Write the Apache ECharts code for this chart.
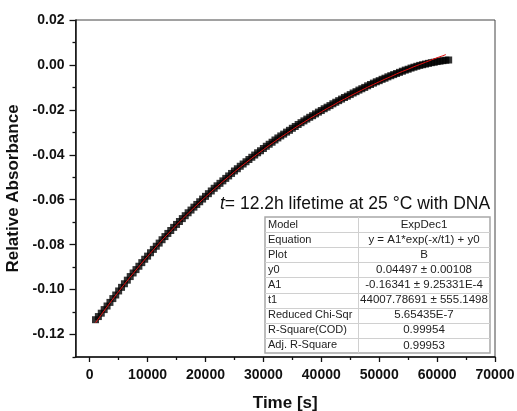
<!DOCTYPE html>
<html>
<head>
<meta charset="utf-8">
<script src="https://cdn.jsdelivr.net/npm/echarts@6/dist/echarts.min.js"></script>
<style>
  html, body { margin: 0; padding: 0; background: #fff; }
  #chart { width: 517px; height: 411px; }
</style>
</head>
<body>
<div id="chart"></div>
<script>
// Measured kinetics: time (s) and relative absorbance, one reading every 500 s
const timeStart = 1000;
const timeStep = 500;
const absorbance = [
  -0.1134, -0.1120, -0.1105, -0.1089, -0.1073, -0.1057, -0.1040, -0.1024, -0.1006, -0.0990,
  -0.0974, -0.0958, -0.0942, -0.0926, -0.0911, -0.0896, -0.0880, -0.0865, -0.0851, -0.0836,
  -0.0821, -0.0807, -0.0793, -0.0778, -0.0764, -0.0750, -0.0737, -0.0723, -0.0710, -0.0697,
  -0.0684, -0.0671, -0.0658, -0.0646, -0.0633, -0.0621, -0.0609, -0.0597, -0.0585, -0.0573,
  -0.0561, -0.0549, -0.0538, -0.0527, -0.0516, -0.0505, -0.0494, -0.0483, -0.0472, -0.0462,
  -0.0451, -0.0441, -0.0431, -0.0421, -0.0411, -0.0401, -0.0391, -0.0382, -0.0372, -0.0362,
  -0.0353, -0.0344, -0.0334, -0.0325, -0.0316, -0.0308, -0.0299, -0.0291, -0.0282, -0.0274,
  -0.0265, -0.0257, -0.0249, -0.0241, -0.0233, -0.0226, -0.0218, -0.0210, -0.0203, -0.0195,
  -0.0188, -0.0181, -0.0173, -0.0166, -0.0159, -0.0152, -0.0145, -0.0139, -0.0132, -0.0125,
  -0.0119, -0.0112, -0.0106, -0.0100, -0.0093, -0.0087, -0.0081, -0.0075, -0.0070, -0.0064,
  -0.0059, -0.0053, -0.0048, -0.0043, -0.0038, -0.0033, -0.0028, -0.0023, -0.0019, -0.0014,
  -0.0010, -0.0006, -0.0002, 0.0001, 0.0004, 0.0007, 0.0010, 0.0012, 0.0015, 0.0017,
  0.0019, 0.0021, 0.0022
];

// ExpDec1 fit curve, sampled every 1000 s
const fitStart = 1000;
const fitStep = 1000;
const fitValues = [
  -0.1148, -0.1112, -0.1077, -0.1042, -0.1009, -0.0976, -0.0944, -0.0913, -0.0882, -0.0852,
  -0.0823, -0.0794, -0.0766, -0.0739, -0.0712, -0.0686, -0.0661, -0.0636, -0.0611, -0.0588,
  -0.0564, -0.0542, -0.0519, -0.0498, -0.0476, -0.0455, -0.0435, -0.0415, -0.0396, -0.0377,
  -0.0358, -0.0340, -0.0322, -0.0305, -0.0288, -0.0271, -0.0255, -0.0239, -0.0224, -0.0209,
  -0.0194, -0.0180, -0.0165, -0.0152, -0.0138, -0.0125, -0.0112, -0.0099, -0.0087, -0.0075,
  -0.0063, -0.0052, -0.0040, -0.0029, -0.0019, -0.0008, 0.0002, 0.0012, 0.0022, 0.0032,
  0.0041, 0.0046
];
const fitEnd = 61500;

// Axis ticks
const xMajorTicks = [0, 10000, 20000, 30000, 40000, 50000, 60000, 70000];
const xMinorTicks = [5000, 15000, 25000, 35000, 45000, 55000, 65000];
const yMajorTicks = [-0.12, -0.10, -0.08, -0.06, -0.04, -0.02, 0.00, 0.02];
const yMinorTicks = [-0.13, -0.11, -0.09, -0.07, -0.05, -0.03, -0.01, 0.01];

// Fit report
const tableLabels = ['Model', 'Equation', 'Plot', 'y0', 'A1', 't1',
  'Reduced Chi-Sqr', 'R-Square(COD)', 'Adj. R-Square'];
const tableValues = ['ExpDec1', 'y = A1*exp(-x/t1) + y0', 'B', '0.04497 \u00b1 0.00108',
  '-0.16341 \u00b1 9.25331E-4', '44007.78691 \u00b1 555.1498', '5.65435E-7', '0.99954', '0.99953'];

const scatterData = absorbance.map((v, i) => [timeStart + i * timeStep, v]);
const fitData = fitValues.map((v, i) => [Math.min(fitStart + i * fitStep, fitEnd), v]);

const FONT = '"Liberation Sans", Arial, sans-serif';

// Table geometry
const tbl = { left: 265, top: 217, right: 490, rowH: 15.1, split: 358 };
const tableGraphics = [];
const nRows = tableLabels.length;
const tblBottom = tbl.top + nRows * tbl.rowH;
tableGraphics.push({
  type: 'rect', z: 10,
  shape: { x: tbl.left, y: tbl.top, width: tbl.right - tbl.left, height: tblBottom - tbl.top },
  style: { fill: '#fff', stroke: '#a8a8a8', lineWidth: 1.5 }
});
for (let r = 1; r < nRows; r++) {
  const y = Math.round(tbl.top + r * tbl.rowH) + 0.5;
  tableGraphics.push({
    type: 'line', z: 11,
    shape: { x1: tbl.left, y1: y, x2: tbl.right, y2: y },
    style: { stroke: '#d0d0d0', lineWidth: 1 }
  });
}
tableGraphics.push({
  type: 'line', z: 11,
  shape: { x1: tbl.split + 0.5, y1: tbl.top, x2: tbl.split + 0.5, y2: tblBottom },
  style: { stroke: '#d0d0d0', lineWidth: 1 }
});
tableLabels.forEach((label, r) => {
  const cy = tbl.top + (r + 0.5) * tbl.rowH;
  tableGraphics.push({
    type: 'text', z: 12, x: tbl.left + 3, y: cy,
    style: { text: label, font: '11px ' + FONT, fill: '#222', textAlign: 'left', textVerticalAlign: 'middle' }
  });
  tableGraphics.push({
    type: 'text', z: 12, x: (tbl.split + tbl.right) / 2, y: cy,
    style: { text: tableValues[r], font: '11.5px ' + FONT, fill: '#222', textAlign: 'center', textVerticalAlign: 'middle' }
  });
});

const chart = echarts.init(document.getElementById('chart'), null, { renderer: 'canvas' });

const xMin = -2450, xMax = 70000, yMin = -0.13, yMax = 0.02;

chart.setOption({
  animation: false,
  backgroundColor: '#fff',
  grid: {
    left: 75.5, right: 22, top: 20, bottom: 54,
    containLabel: false, outerBoundsMode: 'none',
    show: true, borderColor: '#444', borderWidth: 1, backgroundColor: 'transparent'
  },
  xAxis: [
    {
      type: 'value', min: xMin, max: xMax, position: 'bottom',
      axisLine: { show: true, onZero: false, lineStyle: { color: '#111', width: 1.5 } },
      axisTick: { show: true, inside: false, length: 5, customValues: xMajorTicks, lineStyle: { color: '#111', width: 1.3 } },
      axisLabel: {
        customValues: xMajorTicks, margin: 11, color: '#111',
        fontFamily: FONT, fontWeight: 'bold', fontSize: 14,
        formatter: v => String(v)
      },
      splitLine: { show: false },
      name: 'Time [s]', nameLocation: 'middle', nameGap: 38,
      nameTextStyle: { fontFamily: FONT, fontWeight: 'bold', fontSize: 17, color: '#111' }
    },
    {
      type: 'value', min: xMin, max: xMax, position: 'bottom',
      axisLine: { show: false, onZero: false },
      axisTick: { show: true, inside: false, length: 3, customValues: xMinorTicks, lineStyle: { color: '#111', width: 1.3 } },
      axisLabel: { show: false },
      splitLine: { show: false }
    }
  ],
  yAxis: [
    {
      type: 'value', min: yMin, max: yMax, position: 'left',
      axisLine: { show: true, onZero: false, lineStyle: { color: '#111', width: 1.5 } },
      axisTick: { show: true, inside: false, length: 6, customValues: yMajorTicks, lineStyle: { color: '#111', width: 1.3 } },
      axisLabel: {
        customValues: yMajorTicks, margin: 11, color: '#111',
        fontFamily: FONT, fontWeight: 'bold', fontSize: 14,
        formatter: v => v.toFixed(2)
      },
      splitLine: { show: false },
      name: 'Relative Absorbance', nameLocation: 'middle', nameGap: 43,
      nameTextStyle: { fontFamily: FONT, fontWeight: 'bold', fontSize: 17, color: '#111' }
    },
    {
      type: 'value', min: yMin, max: yMax, position: 'left',
      axisLine: { show: false, onZero: false },
      axisTick: { show: true, inside: false, length: 3, customValues: yMinorTicks, lineStyle: { color: '#111', width: 1.3 } },
      axisLabel: { show: false },
      splitLine: { show: false }
    }
  ],
  series: [
    {
      name: 'B', type: 'scatter', xAxisIndex: 0, yAxisIndex: 0,
      data: scatterData, symbol: 'rect', symbolSize: 7,
      itemStyle: { color: '#000' }, z: 2
    },
    {
      name: 'ExpDec1', type: 'line', xAxisIndex: 0, yAxisIndex: 0,
      data: fitData, showSymbol: false, smooth: false,
      lineStyle: { color: '#e01010', width: 1 }, z: 3
    }
  ],
  graphic: [
    {
      type: 'text', z: 12, left: 220, top: 195,
      style: {
        text: '{i|t}= 12.2h lifetime at 25 \u00b0C with DNA',
        font: '17.5px ' + FONT, fill: '#111',
        rich: { i: { fontStyle: 'italic', fontSize: 17.5, fontFamily: FONT, fill: '#111' } }
      }
    }
  ].concat(tableGraphics)
});
</script>
</body>
</html>
